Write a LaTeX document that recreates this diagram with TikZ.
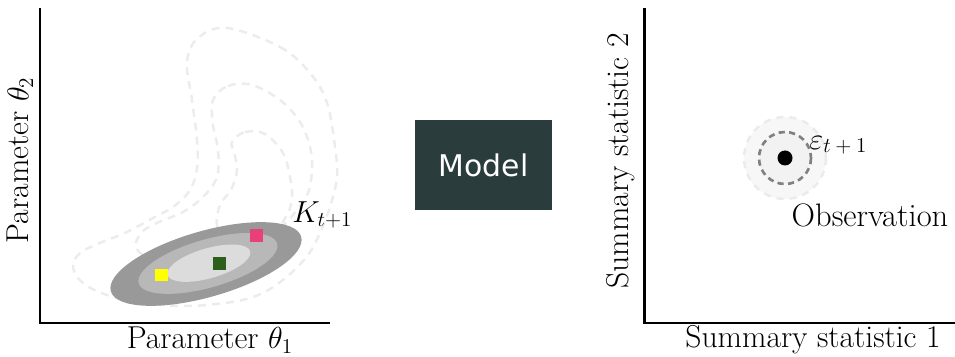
\documentclass[tikz,border=0pt]{standalone}
\usepackage{fontspec}
\newfontfamily\modelfont{DejaVu Sans}
\begin{document}
\definecolor{modelbg}{RGB}{42,61,60}
\definecolor{contour}{RGB}{236,236,236}
\definecolor{kouter}{RGB}{153,153,153}
\definecolor{kmid}{RGB}{184,184,184}
\definecolor{kinner}{RGB}{220,220,220}
\definecolor{ptyellow}{RGB}{255,255,0}
\definecolor{ptgreen}{RGB}{45,95,28}
\definecolor{ptpink}{RGB}{232,65,122}
\begin{tikzpicture}[x=0.02cm,y=-0.02cm,
  axis/.style={line width=1.7pt},
  axlabel/.style={font=\fontsize{18}{21}\selectfont, inner sep=0pt},
  density/.style={contour, line width=1.4pt, dash pattern=on 4.5pt off 3.5pt},
  particle/.style={minimum size=0.26cm, inner sep=0pt, draw=none},
  modelbox/.style={fill=modelbg, text=white, minimum width=2.74cm, minimum height=1.8cm,
    inner sep=0pt, font=\modelfont\fontsize{17}{20}\selectfont}
]
\useasboundingbox (0,0) rectangle (955,357);

% ---- parameter space ----
% prior density contours
\draw[density] plot[smooth cycle, tension=0.6] coordinates {
  (227,28) (280,47) (310,73) (327,103) (335,147) (337,177) (330,207) (320,233)
  (308,255) (290,274) (270,289) (250,298) (225,303) (187,306) (143,303) (107,295)
  (83,283) (73,267) (80,253) (100,243) (127,232) (153,218) (173,207) (190,190)
  (197,168) (197,140) (192,100) (187,62) (198,38)};
\draw[density] plot[smooth cycle, tension=0.6] coordinates {
  (213,100) (228,86) (252,85) (280,100) (300,122) (310,147) (312,170) (308,193)
  (297,210) (280,228) (255,243) (225,255) (190,262) (155,260) (136,248) (142,232)
  (159,222) (183,212) (203,197) (217,177) (218,150) (213,125)};
\draw[density] plot[smooth cycle, tension=0.6] coordinates {
  (232,142) (245,132) (265,134) (283,153) (290,177) (292,197) (287,215) (270,235)
  (240,242) (218,228) (220,205) (231,190) (237,170) (234,152)};

% proposal kernel K_{t+1}
\begin{scope}[shift={(206,264)}, rotate=16]
  \fill[kouter] (0,0) ellipse [x radius=99, y radius=33];
  \fill[kmid] (2,0) ellipse [x radius=72, y radius=24];
  \fill[kinner] (3,0) ellipse [x radius=43, y radius=15];
\end{scope}

% particles
\node[particle, fill=ptyellow] (py) at (161,275) {};
\node[particle, fill=ptgreen]  (pg) at (219,264) {};
\node[particle, fill=ptpink]   (pp) at (256,236) {};

\node[axlabel, font=\fontsize{17}{20}\selectfont, anchor=west] (klabel) at (292,215) {$K_{t+1}$};

% axes
\coordinate (lo) at (40,323);
\coordinate (ltop) at (40,8);
\coordinate (lright) at (330,323);
\draw[axis] (ltop) -- (lo) -- (lright);
\node[axlabel] (xlab1) at (210,340) {Parameter $\theta_1$};
\node[axlabel, rotate=90] (ylab1) at (20,160) {Parameter $\theta_2$};

% ---- model ----
\node[modelbox] (model) at (483.5,165) {Model};

% ---- summary statistic space ----
\coordinate (obs) at (785,158);
\fill[black!3] (obs) circle [radius=41];
\fill[black!5] (obs) circle [radius=26];
\draw[black!8, line width=1.4pt, dash pattern=on 4pt off 3.5pt] (obs) circle [radius=41];
\draw[black!50, line width=1.5pt, dash pattern=on 3.5pt off 2.5pt] (obs) circle [radius=26];
\fill[black] (obs) circle [radius=7.5];
\node[axlabel, font=\fontsize{18}{21}\selectfont, anchor=base west] (eps) at (809,150)
  {$\varepsilon$\raisebox{-1.7pt}{\fontsize{13}{15}\selectfont$t+1$}};
\node[axlabel, font=\fontsize{18.5}{22}\selectfont] (obslabel) at (870,215) {Observation};

\coordinate (ro) at (644,323);
\coordinate (rtop) at (644,8);
\coordinate (rright) at (955,323);
\draw[axis] (rtop) -- (ro) -- (rright);
\node[axlabel] (xlab2) at (813,340) {Summary statistic 1};
\node[axlabel, rotate=90] (ylab2) at (621,161) {Summary statistic 2};
\end{tikzpicture}
\end{document}
